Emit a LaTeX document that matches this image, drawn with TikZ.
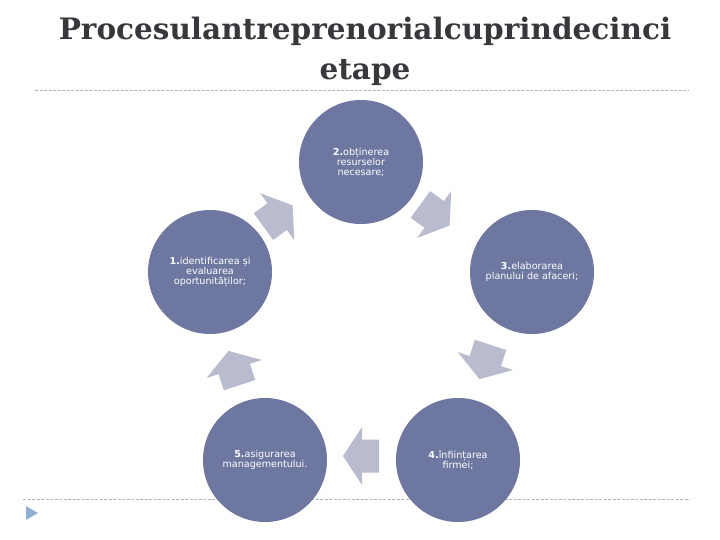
\documentclass[tikz,border=0pt]{standalone}
\usepackage{fontspec}
\setmainfont{DejaVu Serif}
\newfontfamily\smallsans{DejaVu Sans}
\usetikzlibrary{shapes.geometric}
\definecolor{circfill}{RGB}{110,119,160}
\definecolor{arrfill}{RGB}{184,188,206}
\definecolor{dashcol}{RGB}{175,180,190}
\definecolor{tricol}{RGB}{143,175,208}
\definecolor{titlecol}{RGB}{55,55,60}
\tikzset{
  stage/.style={circle, fill=circfill, minimum size=124pt, inner sep=0pt, text=white,
    align=center, font=\smallsans\fontsize{9.6}{10}\selectfont},
  blockarrow/.style={fill=arrfill, draw=none},
  sepline/.style={draw=dashcol, dashed, dash pattern=on 3pt off 1.5pt, line width=0.6pt},
  pics/bigarrow/.style={code={
    \path[blockarrow] (-18,-16.5) -- (-1,-16.5) -- (-1,-29) -- (18,0)
      -- (-1,29) -- (-1,16.5) -- (-18,16.5) -- cycle;
  }}
}
\begin{document}
\begin{tikzpicture}[x=1pt,y=-1pt]
\useasboundingbox[fill=white] (0,0) rectangle (720,540);
\node[font=\bfseries\fontsize{29.5}{40}\selectfont, text=titlecol, align=center] (title) at (365,51)
  {Procesulantreprenorialcuprindecinci\\etape};
\coordinate (tl) at (35,90); \coordinate (tr) at (688,90);
\draw[sepline] (tl) -- (tr);
\coordinate (bl) at (23,499); \coordinate (br) at (690,499);
\draw[sepline] (bl) -- (br);
\node[fill=tricol, regular polygon, regular polygon sides=3, shape border rotate=-90, inner sep=0pt, minimum size=16pt] (tri) at (30,513) {};
\node[stage] (c2) at (361,162) {\textbf{2.}obținerea\\resurselor\\necesare;};
\node[stage] (c1) at (210,272) {\textbf{1.}identificarea și\\evaluarea\\oportunităților;};
\node[stage] (c3) at (532,272) {\textbf{3.}elaborarea\\planului de afaceri;};
\node[stage] (c5) at (265,460) {\textbf{5.}asigurarea\\managementului.};
\node[stage] (c4) at (458,460) {\textbf{4.}înființarea\\firmei;};
\pic[rotate=36] (a12) at (278,216) {bigarrow};
\pic[rotate=-36] (a23) at (435,215) {bigarrow};
\pic[rotate=-108] (a34) at (485,362) {bigarrow};
\pic[rotate=180] (a45) at (361,456) {bigarrow};
\pic[rotate=108] (a51) at (234,368) {bigarrow};
\end{tikzpicture}
\end{document}
